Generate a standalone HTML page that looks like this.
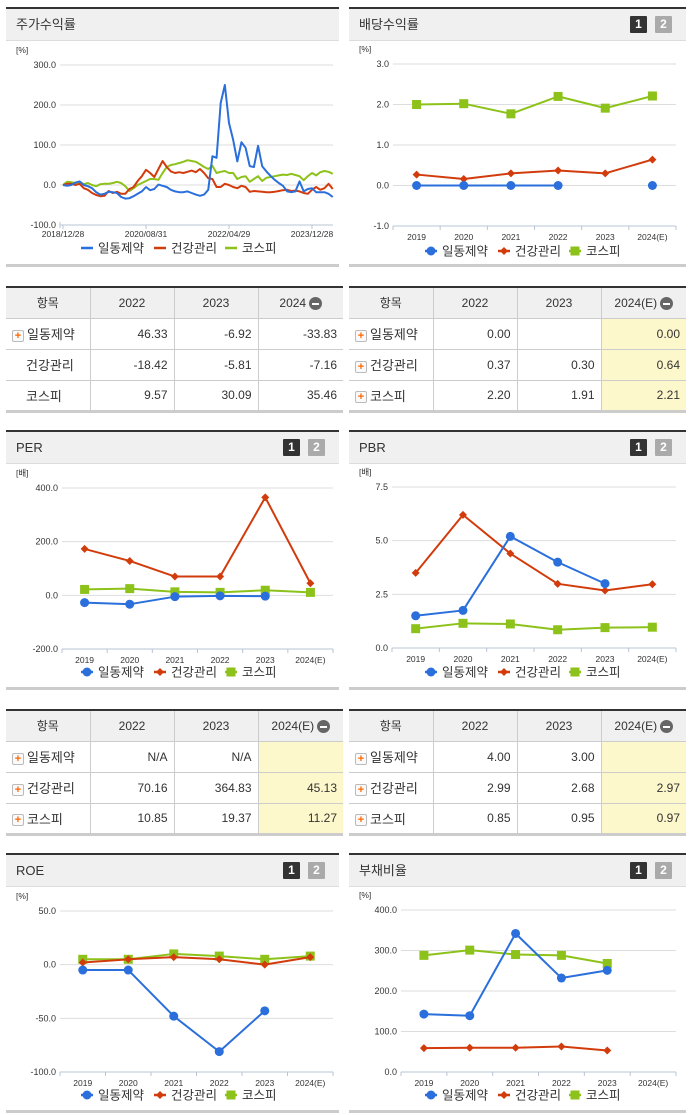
<!DOCTYPE html>
<html><head><meta charset="utf-8">
<style>
body{margin:0;width:691px;height:1115px;background:#fff;position:relative;overflow:hidden;font-family:"Liberation Sans","Noto Sans CJK KR",sans-serif;color:#333}
.panel{position:absolute;border-top:2px solid #333;border-bottom:3px solid #ccc;box-sizing:border-box}
.phead{height:31px;background:#f0f0f0;border-bottom:1px solid #ddd;font-size:13px;line-height:31px;padding-left:10px;position:relative}
.btn{position:absolute;top:7px;width:17px;height:17px;color:#fff;font-size:12px;font-weight:bold;line-height:17px;text-align:center;border-radius:1px}
.b1{right:39px;background:#333}.b2{right:14px;background:#aaa}
table.t{position:absolute;border-collapse:collapse;border-top:2px solid #333;border-bottom:3px solid #ccc;font-size:12px;table-layout:fixed}
table.t td,table.t th{border:1px solid #ccc;height:31px;padding:0 6px;box-sizing:border-box}
table.t tr td:first-child,table.t tr th:first-child{border-left:none}
table.t tr td:last-child,table.t tr th:last-child{border-right:none}
table.t th{background:#f0f0f0;font-weight:normal;text-align:center}
table.t td{text-align:right}
table.t td.n{text-align:left;font-size:13px}
.y{background:#fdf7cc}
.plus{display:inline-block;width:10px;height:10px;border:1px solid #bbb;border-radius:2px;color:#f60;font-size:11px;line-height:10px;text-align:center;font-weight:bold;vertical-align:middle;margin-right:3px;background:#fafafa}
.min{display:inline-block;width:13px;height:13px;border-radius:50%;background:#666;vertical-align:middle;position:relative;margin-left:3px}
.min:after{content:"";position:absolute;left:3px;top:6px;width:7px;height:2px;background:#fff}
svg#c{position:absolute;left:0;top:0}
</style></head><body>

<div class="panel" style="left:6px;top:7px;width:333px;height:260px"><div class="phead">주가수익률</div></div>
<div class="panel" style="left:349px;top:7px;width:337px;height:260px"><div class="phead">배당수익률<span class="btn b1">1</span><span class="btn b2">2</span></div></div>
<div class="panel" style="left:6px;top:430px;width:333px;height:260px"><div class="phead">PER<span class="btn b1">1</span><span class="btn b2">2</span></div></div>
<div class="panel" style="left:349px;top:430px;width:337px;height:260px"><div class="phead">PBR<span class="btn b1">1</span><span class="btn b2">2</span></div></div>
<div class="panel" style="left:6px;top:853px;width:333px;height:260px"><div class="phead">ROE<span class="btn b1">1</span><span class="btn b2">2</span></div></div>
<div class="panel" style="left:349px;top:853px;width:337px;height:260px"><div class="phead">부채비율<span class="btn b1">1</span><span class="btn b2">2</span></div></div>

<table class="t" style="left:6px;top:286px;width:337px">
<colgroup><col style="width:84px"><col style="width:84px"><col style="width:84px"><col style="width:85px"></colgroup>
<tr><th>항목</th><th>2022</th><th>2023</th><th>2024<span class="min"></span></th></tr>
<tr><td class="n"><span class="plus">+</span>일동제약</td><td>46.33</td><td>-6.92</td><td>-33.83</td></tr>
<tr><td class="n" style="padding-left:20px">건강관리</td><td>-18.42</td><td>-5.81</td><td>-7.16</td></tr>
<tr><td class="n" style="padding-left:20px">코스피</td><td>9.57</td><td>30.09</td><td>35.46</td></tr>
</table>
<table class="t" style="left:349px;top:286px;width:337px">
<colgroup><col style="width:84px"><col style="width:84px"><col style="width:84px"><col style="width:85px"></colgroup>
<tr><th>항목</th><th>2022</th><th>2023</th><th>2024(E)<span class="min"></span></th></tr>
<tr><td class="n"><span class="plus">+</span>일동제약</td><td>0.00</td><td></td><td class="y">0.00</td></tr>
<tr><td class="n"><span class="plus">+</span>건강관리</td><td>0.37</td><td>0.30</td><td class="y">0.64</td></tr>
<tr><td class="n"><span class="plus">+</span>코스피</td><td>2.20</td><td>1.91</td><td class="y">2.21</td></tr>
</table>
<table class="t" style="left:6px;top:709px;width:337px">
<colgroup><col style="width:84px"><col style="width:84px"><col style="width:84px"><col style="width:85px"></colgroup>
<tr><th>항목</th><th>2022</th><th>2023</th><th>2024(E)<span class="min"></span></th></tr>
<tr><td class="n"><span class="plus">+</span>일동제약</td><td>N/A</td><td>N/A</td><td class="y"></td></tr>
<tr><td class="n"><span class="plus">+</span>건강관리</td><td>70.16</td><td>364.83</td><td class="y">45.13</td></tr>
<tr><td class="n"><span class="plus">+</span>코스피</td><td>10.85</td><td>19.37</td><td class="y">11.27</td></tr>
</table>
<table class="t" style="left:349px;top:709px;width:337px">
<colgroup><col style="width:84px"><col style="width:84px"><col style="width:84px"><col style="width:85px"></colgroup>
<tr><th>항목</th><th>2022</th><th>2023</th><th>2024(E)<span class="min"></span></th></tr>
<tr><td class="n"><span class="plus">+</span>일동제약</td><td>4.00</td><td>3.00</td><td class="y"></td></tr>
<tr><td class="n"><span class="plus">+</span>건강관리</td><td>2.99</td><td>2.68</td><td class="y">2.97</td></tr>
<tr><td class="n"><span class="plus">+</span>코스피</td><td>0.85</td><td>0.95</td><td class="y">0.97</td></tr>
</table>

<svg id="c" width="691" height="1115" xmlns="http://www.w3.org/2000/svg"></svg>

<script>
const years = ["2019","2020","2021","2022","2023","2024(E)"];
// stock return (monthly)
const priceTicks = ["2018/12/28","2020/08/31","2022/04/29","2023/12/28"];
const priceTickIdx = [0,20,40,60];
const priceIldong = [0,-2,0,6,9,0,-3,-8,-18,-24,-22,-17,-18,-20,-30,-34,-33,-28,-22,-16,-5,-13,-10,1,-2,-5,-12,-16,-18,-18,-16,-20,-24,-27,-24,-12,72,68,205,250,155,113,59,107,93,47,45,98,47,34,23,13,5,-2,-16,-18,-16,9,-16,-10,-8,-18,-18,-18,-22,-30];
const priceHealth = [0,3,3,0,3,-8,-12,-20,-25,-28,-27,-15,-20,-17,-22,-22,-10,-5,10,22,38,30,20,40,60,45,34,30,32,30,33,36,32,40,30,17,15,-5,-5,3,0,-5,-8,-2,-5,-17,-15,-16,-17,-18,-18,-17,-15,-13,-12,-15,-14,-16,-20,-22,-12,-5,-12,-8,3,-10];
const priceKospi = [0,8,7,5,8,2,5,0,-3,2,3,3,5,8,5,-3,-15,-8,0,5,10,15,15,13,30,45,50,52,55,58,62,60,58,52,45,40,48,30,33,35,30,30,15,20,22,8,15,22,10,18,20,22,24,26,25,28,25,22,12,22,30,24,32,35,33,28];
const priceYTicks = [300,200,100,0,-100];
// dividend
const divIldong = [0,0,0,0,null,0];
const divHealth = [0.27,0.16,0.30,0.37,0.30,0.64];
const divKospi = [2.0,2.02,1.77,2.20,1.91,2.21];
const divYTicks = [3,2,1,0,-1];
// PER
const perIldong = [-27,-33,-5,-2,-3,null];
const perHealth = [173,128,70,70,365,45];
const perKospi = [22,25,13,11,19,11];
const perYTicks = [400,200,0,-200];
// PBR
const pbrIldong = [1.5,1.75,5.2,4.0,3.0,null];
const pbrHealth = [3.5,6.2,4.4,2.99,2.68,2.97];
const pbrKospi = [0.9,1.15,1.12,0.85,0.95,0.97];
const pbrYTicks = [7.5,5,2.5,0];
// ROE
const roeIldong = [-5,-5,-48,-81,-43,null];
const roeHealth = [2,5,7,5,0,7];
const roeKospi = [5,5,10,8,5,8];
const roeYTicks = [50,0,-50,-100];
// debt ratio
const debtIldong = [143,139,342,232,251,null];
const debtHealth = [59,60,60,63,53,null];
const debtKospi = [288,301,290,288,268,null];
const debtYTicks = [400,300,200,100,0];

const NS="http://www.w3.org/2000/svg";
const svg=document.getElementById('c');
const BLUE="#2a6fdb",RED="#d23c0c",GREEN="#8cc21a";
function el(tag,attrs,parent){const e=document.createElementNS(NS,tag);for(const k in attrs)e.setAttribute(k,attrs[k]);(parent||svg).appendChild(e);return e;}
function txt(x,y,s,size,anchor,fill){const t=el('text',{x:x,y:y,'font-size':size,'text-anchor':anchor||'start',fill:fill||'#333','font-family':'"Liberation Sans","Noto Sans CJK KR",sans-serif'});t.textContent=s;return t;}

function yAxis(g,c,ticks,fmt){
  const ys=v=>c.yTop+(c.max-v)/(c.max-c.min)*(c.yBot-c.yTop);
  ticks.forEach(v=>{
    if(v!==c.min){const l=el('line',{x1:c.x0,x2:c.x1,y1:ys(v),y2:ys(v),stroke:'#ddd','stroke-width':1},g);}
    const t=txt(c.x0-4,ys(v)+3,fmt(v),9,'end');g.appendChild(t);
  });
  const ax=el('line',{x1:c.x0,x2:c.x1,y1:c.yBot,y2:c.yBot,stroke:'#b8c4d4','stroke-width':1},g);
  
  const u=txt(c.unitX,c.yTop-12,c.unit,8.5,'start');g.appendChild(u);
  return ys;
}
function marker(g,type,x,y,color){
  let m;
  if(type==='circle')m=el('circle',{cx:x,cy:y,r:4.5,fill:color},g);
  else if(type==='diamond')m=el('path',{d:`M${x} ${y-4}L${x+4} ${y}L${x} ${y+4}L${x-4} ${y}Z`,fill:color},g);
  else m=el('rect',{x:x-4.5,y:y-4.5,width:9,height:9,fill:color},g);
  return m;
}
function series(g,xs,ys,vals,color,type,name){
  let d='',pen=false;
  vals.forEach((v,i)=>{if(v===null){pen=false;return;}d+=(pen?'L':'M')+xs(i)+' '+ys(v);pen=true;});
  const p=el('path',{d:d,fill:'none',stroke:color,'stroke-width':2,'stroke-linejoin':'round'},g);
  
  if(type){vals.forEach((v,i)=>{if(v===null)return;const m=marker(g,type,xs(i),ys(v),color);
    });}
}
function legend(g,y,offset,withMarkers){
  const items=[["일동제약",BLUE,'circle',87],["건강관리",RED,'diamond',160],["코스피",GREEN,'rect',231]];
  items.forEach(it=>{
    const x=it[3]+offset;
    const ln=el('line',{x1:x-6,x2:x+6,y1:y,y2:y,stroke:it[1],'stroke-width':2.5},g);
    
    if(withMarkers){const m=marker(g,it[2],x,y,it[1]);}
    const t=txt(x+11,y+4.5,it[0],12.5,'start');g.appendChild(t);
  });
}
function catChart(name,c,ticks,fmt,a,b,d){
  const g=el('g',{});
  const ys=yAxis(g,c,ticks,fmt);
  const bw=(c.x1-c.x0)/years.length;
  const xs=i=>c.x0+bw*(i+0.5);
  for(let i=0;i<=years.length;i++){const tk=el('line',{x1:c.x0+bw*i,x2:c.x0+bw*i,y1:c.yBot,y2:c.yBot+4,stroke:'#b8c4d4'},g);}
  years.forEach((y,i)=>{const t=txt(xs(i),c.yBot+14,y,8.5,'middle');g.appendChild(t);});
  series(g,xs,ys,d,GREEN,'rect','kospi');
  series(g,xs,ys,b,RED,'diamond','health');
  series(g,xs,ys,a,BLUE,'circle','ildong');
  legend(g,c.legY,c.legOff,true);
}
const f1=v=>v.toFixed(1);

// stock return chart
(function(){
  const c={x0:60,x1:333,yTop:65,yBot:225,min:-100,max:300,unit:'[%]',unitX:16};
  const g=el('g',{});
  const ys=yAxis(g,c,priceYTicks,f1);
  const xs=i=>63+i*4.15;
  const vl=el('line',{x1:c.x0,x2:c.x0,y1:c.yBot-3,y2:c.yBot+3,stroke:'#b8c4d4'},g);
  priceTickIdx.forEach((ix,k)=>{
    const tk=el('line',{x1:xs(ix),x2:xs(ix),y1:c.yBot,y2:c.yBot+4,stroke:'#b8c4d4'},g);
    const t=txt(xs(ix),c.yBot+12,priceTicks[k],8.5,'middle');g.appendChild(t);
  });
  series(g,xs,ys,priceKospi,GREEN,null,'kospi');
  series(g,xs,ys,priceHealth,RED,null,'health');
  series(g,xs,ys,priceIldong,BLUE,null,'ildong');
  legend(g,248,0,false);
})();

catChart('dividend',{x0:393,x1:676,yTop:64,yBot:226,min:-1,max:3,unit:'[%]',unitX:359,legY:251,legOff:344},divYTicks,f1,divIldong,divHealth,divKospi);
catChart('per',{x0:62,x1:333,yTop:488,yBot:649,min:-200,max:400,unit:'[배]',unitX:16,legY:672,legOff:0},perYTicks,f1,perIldong,perHealth,perKospi);
catChart('pbr',{x0:392,x1:676,yTop:487,yBot:648,min:0,max:7.5,unit:'[배]',unitX:359,legY:672,legOff:344},pbrYTicks,f1,pbrIldong,pbrHealth,pbrKospi);
catChart('roe',{x0:60,x1:333,yTop:911,yBot:1072,min:-100,max:50,unit:'[%]',unitX:16,legY:1095,legOff:0},roeYTicks,f1,roeIldong,roeHealth,roeKospi);
catChart('debt-ratio',{x0:401,x1:676,yTop:910,yBot:1072,min:0,max:400,unit:'[%]',unitX:359,legY:1095,legOff:344},debtYTicks,f1,debtIldong,debtHealth,debtKospi);
</script>
</body></html>
